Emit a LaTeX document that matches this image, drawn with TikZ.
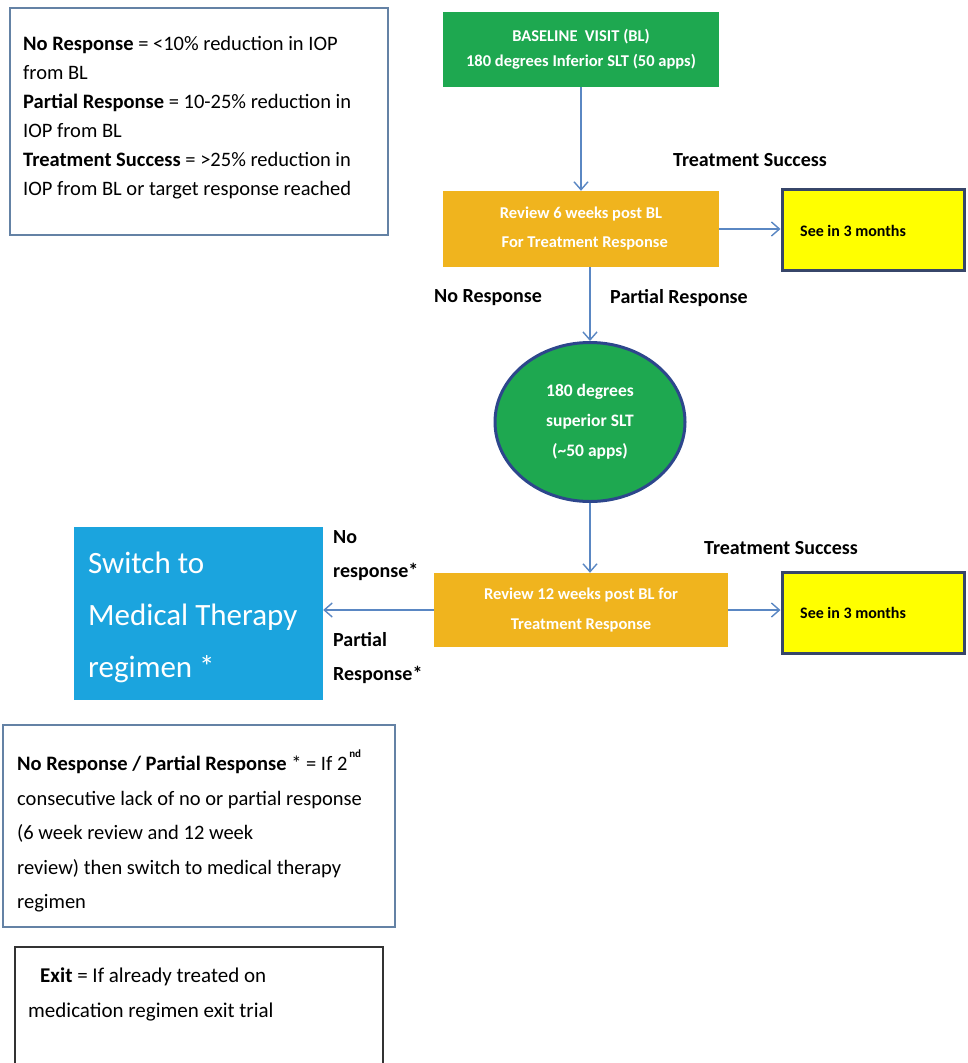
\documentclass[tikz,border=0pt]{standalone}
\usepackage{fontspec}
\setmainfont{Carlito}
\usetikzlibrary{arrows.meta,shapes.geometric}
\definecolor{bgreen}{RGB}{30,168,80}
\definecolor{borange}{RGB}{240,180,30}
\definecolor{bsky}{RGB}{27,164,222}
\definecolor{byellow}{RGB}{255,255,0}
\definecolor{bframe}{RGB}{100,130,165}
\definecolor{arr}{RGB}{90,135,195}
\definecolor{edark}{RGB}{45,70,140}
\definecolor{yframe}{RGB}{55,70,105}
\begin{document}
\begin{tikzpicture}[x=1pt,y=-1pt,
  conn/.style={draw=arr,line width=1.4pt,-{Straight Barb[length=8pt,width=14pt]}},
  greenbox/.style={fill=bgreen,text=white,font=\fontsize{16.5}{25}\selectfont\bfseries,align=center,inner sep=0pt},
  orangebox/.style={fill=borange,text=white,font=\fontsize{16.5}{29}\selectfont\bfseries,align=center,inner sep=0pt},
  yellowbox/.style={fill=byellow,draw=yframe,line width=3pt,minimum width=182pt,minimum height=81pt},
  yellowtext/.style={anchor=west,inner sep=0pt,font=\fontsize{16}{18}\selectfont\bfseries},
  lbl/.style={font=\fontsize{20}{34}\selectfont\bfseries,inner sep=0pt},
  framebox/.style={draw=bframe,line width=1.5pt,inner sep=0pt},
  notetext/.style={anchor=west,align=left,inner sep=0pt}]
\useasboundingbox (0,0) rectangle (967,1063);
\clip (0,0) rectangle (967,1063);
\fill[white] (0,0) rectangle (967,1063);

% legend
\node[framebox,minimum width=378pt,minimum height=227pt] (legend) at (199,121.5) {};
\node[notetext,font=\fontsize{20.5}{29}\selectfont] (legendtext) at (23,117.5)
  {\textbf{No Response} = <10\% reduction in IOP\\from BL\\\textbf{Partial Response} = 10-25\% reduction in\\IOP from BL\\\textbf{Treatment Success} = >25\% reduction in\\IOP from BL or target response reached};

% flow
\node[greenbox,minimum width=276pt,minimum height=75pt] (base) at (581,49.5)
  {BASELINE\ \ VISIT (BL)\\180 degrees Inferior SLT (50 apps)};
\node[orangebox,minimum width=276pt,minimum height=76pt] (r1) at (581,229)
  {Review 6 weeks post BL\\\ \ For Treatment Response};
\node[yellowbox] (y1) at (873,229.5) {};
\node[yellowtext] (y1t) at (800,231) {See in 3 months};
\node[ellipse,fill=bgreen,draw=edark,line width=3pt,minimum width=190pt,minimum height=159pt,inner sep=0pt,
  text=white,font=\fontsize{17.5}{30}\selectfont\bfseries,align=center] (e) at (590,422)
  {180 degrees\\superior SLT\\(\textasciitilde 50 apps)};
\node[orangebox,minimum width=294pt,minimum height=74pt] (r2) at (581,610)
  {Review 12 weeks post BL for\\Treatment Response};
\node[yellowbox] (y2) at (873,612.5) {};
\node[yellowtext] (y2t) at (800,613) {See in 3 months};
\node[fill=bsky,text=white,font=\fontsize{31}{52}\selectfont,inner xsep=14pt,inner ysep=0pt,
  align=left,minimum width=249pt,minimum height=173pt] (blue) at (198.5,613.5) {};
\node[notetext,text=white,font=\fontsize{31}{52}\selectfont] (bluetext) at (88,617)
  {Switch to\\Medical Therapy\\regimen *};

% labels
\node[lbl] (ts1) at (750,160) {Treatment Success};
\node[lbl] (nr1) at (488,298) {No Response};
\node[lbl] (pr1) at (679,298) {Partial Response};
\node[lbl] (ts2) at (781,548) {Treatment Success};
\node[lbl,anchor=west,align=left] (nr2) at (333,556) {No\\response*};
\node[lbl,anchor=west,align=left] (pr2) at (333,658) {Partial\\Response*};

% connectors
\draw[conn] (base.south) -- (r1.north);
\draw[conn] (r1.east) -- (y1.west |- r1.east);
\draw[conn] (e.north |- r1.south) -- (e.north);
\draw[conn] (e.south) -- (e.south |- r2.north);
\draw[conn] (r2.east) -- (y2.west |- r2.east);
\draw[conn] (r2.west) -- (blue.east |- r2.west);

% bottom notes
\node[framebox,minimum width=392pt,minimum height=202pt] (note) at (199,826) {};
\node[notetext,font=\fontsize{20.5}{34.5}\selectfont] (notetext) at (17,831)
  {\textbf{No Response / Partial Response} * = If 2\raisebox{1.4ex}{\fontsize{11}{11}\selectfont\,\textbf{nd}}\\consecutive lack of no or partial response\\(6 week review and 12 week\\review) then switch to medical therapy\\regimen};
\node[draw=black!80,line width=1.5pt,minimum width=368pt,minimum height=133pt] (exitbox) at (199,1013.5) {};
\node[notetext,font=\fontsize{21}{35}\selectfont] (exittext) at (28,994.5)
  {\hspace*{12pt}\textbf{Exit} = If already treated on\\medication regimen exit trial};
\end{tikzpicture}
\end{document}
